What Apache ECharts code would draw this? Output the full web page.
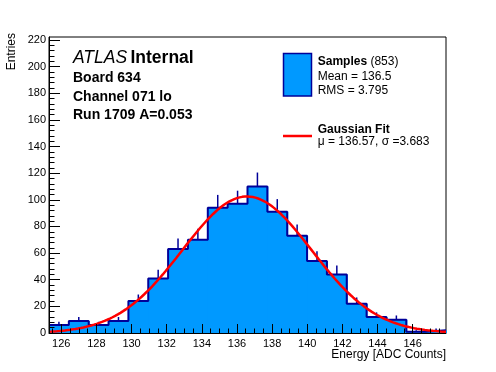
<!DOCTYPE html>
<html>
<head>
<meta charset="utf-8">
<script src="https://cdn.jsdelivr.net/npm/echarts@6/dist/echarts.min.js"></script>
<style>
html,body{margin:0;padding:0;background:#fff;}
#chart{width:496px;height:372px;}
</style>
</head>
<body>
<div id="chart"></div>
<script>
// ---- data ----
const binEdges = [125.30, 126.43, 127.56, 128.69, 129.82, 130.95, 132.08, 133.21, 134.34, 135.47, 136.60,
                  137.73, 138.86, 139.99, 141.12, 142.25, 143.38, 144.51, 145.64, 146.77, 147.90];
const counts = [6, 9, 6, 9, 24, 41, 63, 70, 94, 97, 110, 91, 73, 54, 44, 22, 12, 10, 1, 2];
const xTickLabels = [126, 128, 130, 132, 134, 136, 138, 140, 142, 144, 146];
const xMinorTicks = [125.5,126.5,127,127.5,128.5,129,129.5,130.5,131,131.5,132.5,133,133.5,134.5,135,135.5,
                     136.5,137,137.5,138.5,139,139.5,140.5,141,141.5,142.5,143,143.5,144.5,145,145.5,146.5,147,147.5];
const yTickLabels = [0, 20, 40, 60, 80, 100, 120, 140, 160, 180, 200, 220];
const yMinorTicks = [4,8,12,16,24,28,32,36,44,48,52,56,64,68,72,76,84,88,92,96,104,108,112,116,124,128,132,136,
                     144,148,152,156,164,168,172,176,184,188,192,196,204,208,212,216];
const fitMu = 136.57, fitSigma = 3.683, fitAmp = 102.5;
const xRange = [125.30, 147.90];
const yRange = [0, 222.25];
const headerLines = ['Board 634', 'Channel 071 lo', 'Run 1709 A=0.053'];
const xTitle = 'Energy [ADC Counts]';
const yTitle = 'Entries';

// ---- derived series ----
const histRects = counts.map((c, i) => [binEdges[i], binEdges[i + 1], c]);
const outline = [];
counts.forEach((c, i) => { outline.push([binEdges[i], c]); outline.push([binEdges[i + 1], c]); });
const errBars = counts.map((c, i) => [(binEdges[i] + binEdges[i + 1]) / 2, c, Math.sqrt(c)]);
const gauss = [];
const nPts = 300;
for (let k = 0; k <= nPts; k++) {
  const x = xRange[0] + (xRange[1] - xRange[0]) * k / nPts;
  gauss.push([x, fitAmp * Math.exp(-0.5 * Math.pow((x - fitMu) / fitSigma, 2))]);
}

const FONT = '"Liberation Sans", Arial, Helvetica, sans-serif';
const FILL = '#0099ff';
const EDGE = '#000099';

const chart = echarts.init(document.getElementById('chart'), null, {renderer: 'canvas'});
const baseAxis = {
  type: 'value', z: 10, splitLine: {show: false}
};
chart.setOption({
  animation: false,
  backgroundColor: '#fff',
  grid: {left: 49, right: 50, top: 37, bottom: 39, show: true, borderColor: '#000', borderWidth: 1, containLabel: false},
  xAxis: [
    Object.assign({}, baseAxis, {
      min: xRange[0], max: xRange[1], position: 'bottom',
      axisLine: {show: true, lineStyle: {color: '#000', width: 1}},
      axisTick: {show: true, inside: true, length: 9, customValues: xTickLabels, lineStyle: {color: '#000'}},
      axisLabel: {show: true, customValues: xTickLabels, margin: 5, fontFamily: FONT, fontSize: 11, color: '#000'}
    }),
    Object.assign({}, baseAxis, {
      min: xRange[0], max: xRange[1], position: 'bottom', offset: 0,
      axisLine: {show: false},
      axisTick: {show: true, inside: true, length: 4.5, customValues: xMinorTicks, lineStyle: {color: '#000'}},
      axisLabel: {show: false}
    })
  ],
  yAxis: [
    Object.assign({}, baseAxis, {
      min: yRange[0], max: yRange[1], position: 'left',
      axisLine: {show: true, lineStyle: {color: '#000', width: 1}},
      axisTick: {show: true, inside: true, length: 11, customValues: yTickLabels, lineStyle: {color: '#000'}},
      axisLabel: {show: true, customValues: yTickLabels, margin: 3, fontFamily: FONT, fontSize: 11, color: '#000'}
    }),
    Object.assign({}, baseAxis, {
      min: yRange[0], max: yRange[1], position: 'left', offset: 0,
      axisLine: {show: false},
      axisTick: {show: true, inside: true, length: 5.5, customValues: yMinorTicks, lineStyle: {color: '#000'}},
      axisLabel: {show: false}
    })
  ],
  series: [
    {
      type: 'custom', name: 'fill', z: 2, data: histRects,
      encode: {x: [0, 1], y: 2},
      renderItem: function (params, api) {
        const p0 = api.coord([api.value(0), api.value(2)]);
        const p1 = api.coord([api.value(1), 0]);
        return {type: 'rect', shape: {x: p0[0], y: p0[1], width: p1[0] - p0[0] + 1, height: p1[1] - p0[1]},
                style: {fill: FILL}};
      }
    },
    {
      type: 'line', name: 'outline', z: 3, data: outline, showSymbol: false, symbol: 'none',
      lineStyle: {color: EDGE, width: 2}, silent: true
    },
    {
      type: 'custom', name: 'errors', z: 4, data: errBars,
      encode: {x: 0, y: 1},
      renderItem: function (params, api) {
        const x = api.value(0), v = api.value(1), e = api.value(2);
        const a = api.coord([x, v]);
        const b = api.coord([x, v + e]);
        return {type: 'line', shape: {x1: a[0], y1: a[1], x2: b[0], y2: b[1]},
                style: {stroke: EDGE, lineWidth: 1.5}};
      }
    },
    {
      type: 'line', name: 'Gaussian Fit', z: 5, data: gauss, showSymbol: false, symbol: 'none',
      lineStyle: {color: '#ff0000', width: 2.5}, silent: true
    }
  ],
  graphic: [
    {type: 'text', x: 73, y: 58, style: {text: '{a|ATLAS} {b|Internal}', verticalAlign: 'middle',
      rich: {a: {fontFamily: FONT, fontStyle: 'italic', fontSize: 17.5, fill: '#000'},
             b: {fontFamily: FONT, fontWeight: 'bold', fontSize: 17.5, fill: '#000'}}}},
    {type: 'text', x: 73, y: 78.4, style: {text: headerLines[0], fontFamily: FONT, fontWeight: 'bold', fontSize: 14, fill: '#000', verticalAlign: 'middle'}},
    {type: 'text', x: 73, y: 96.7, style: {text: headerLines[1], fontFamily: FONT, fontWeight: 'bold', fontSize: 14, fill: '#000', verticalAlign: 'middle'}},
    {type: 'text', x: 73, y: 115, style: {text: headerLines[2], fontFamily: FONT, fontWeight: 'bold', fontSize: 14, fill: '#000', verticalAlign: 'middle'}},
    // legend
    {type: 'rect', shape: {x: 283.5, y: 53.5, width: 28, height: 42.5}, style: {fill: FILL, stroke: EDGE, lineWidth: 1.5}},
    {type: 'text', x: 317.7, y: 61.6, style: {text: '{b|Samples} {n|(853)}', verticalAlign: 'middle',
      rich: {b: {fontFamily: FONT, fontWeight: 'bold', fontSize: 12, fill: '#000'},
             n: {fontFamily: FONT, fontSize: 12, fill: '#000'}}}},
    {type: 'text', x: 317.7, y: 76.3, style: {text: 'Mean = 136.5', fontFamily: FONT, fontSize: 12, fill: '#000', verticalAlign: 'middle'}},
    {type: 'text', x: 317.7, y: 90.3, style: {text: 'RMS = 3.795', fontFamily: FONT, fontSize: 12, fill: '#000', verticalAlign: 'middle'}},
    {type: 'line', shape: {x1: 283, y1: 136, x2: 312, y2: 136}, style: {stroke: '#ff0000', lineWidth: 2.5}},
    {type: 'text', x: 317.7, y: 129.6, style: {text: 'Gaussian Fit', fontFamily: FONT, fontWeight: 'bold', fontSize: 12, fill: '#000', verticalAlign: 'middle'}},
    {type: 'text', x: 317.7, y: 141.6, style: {text: 'μ = 136.57, σ =3.683', fontFamily: FONT, fontSize: 12, fill: '#000', verticalAlign: 'middle'}},
    // axis titles
    {type: 'text', x: 446, y: 355, style: {text: xTitle, fontFamily: FONT, fontSize: 12, fill: '#000', align: 'right', verticalAlign: 'middle'}},
    {type: 'text', x: 12, y: 33, rotation: Math.PI / 2, style: {text: yTitle, fontFamily: FONT, fontSize: 12, fill: '#000', align: 'right', verticalAlign: 'middle'}}
  ]
});
</script>
</body>
</html>
